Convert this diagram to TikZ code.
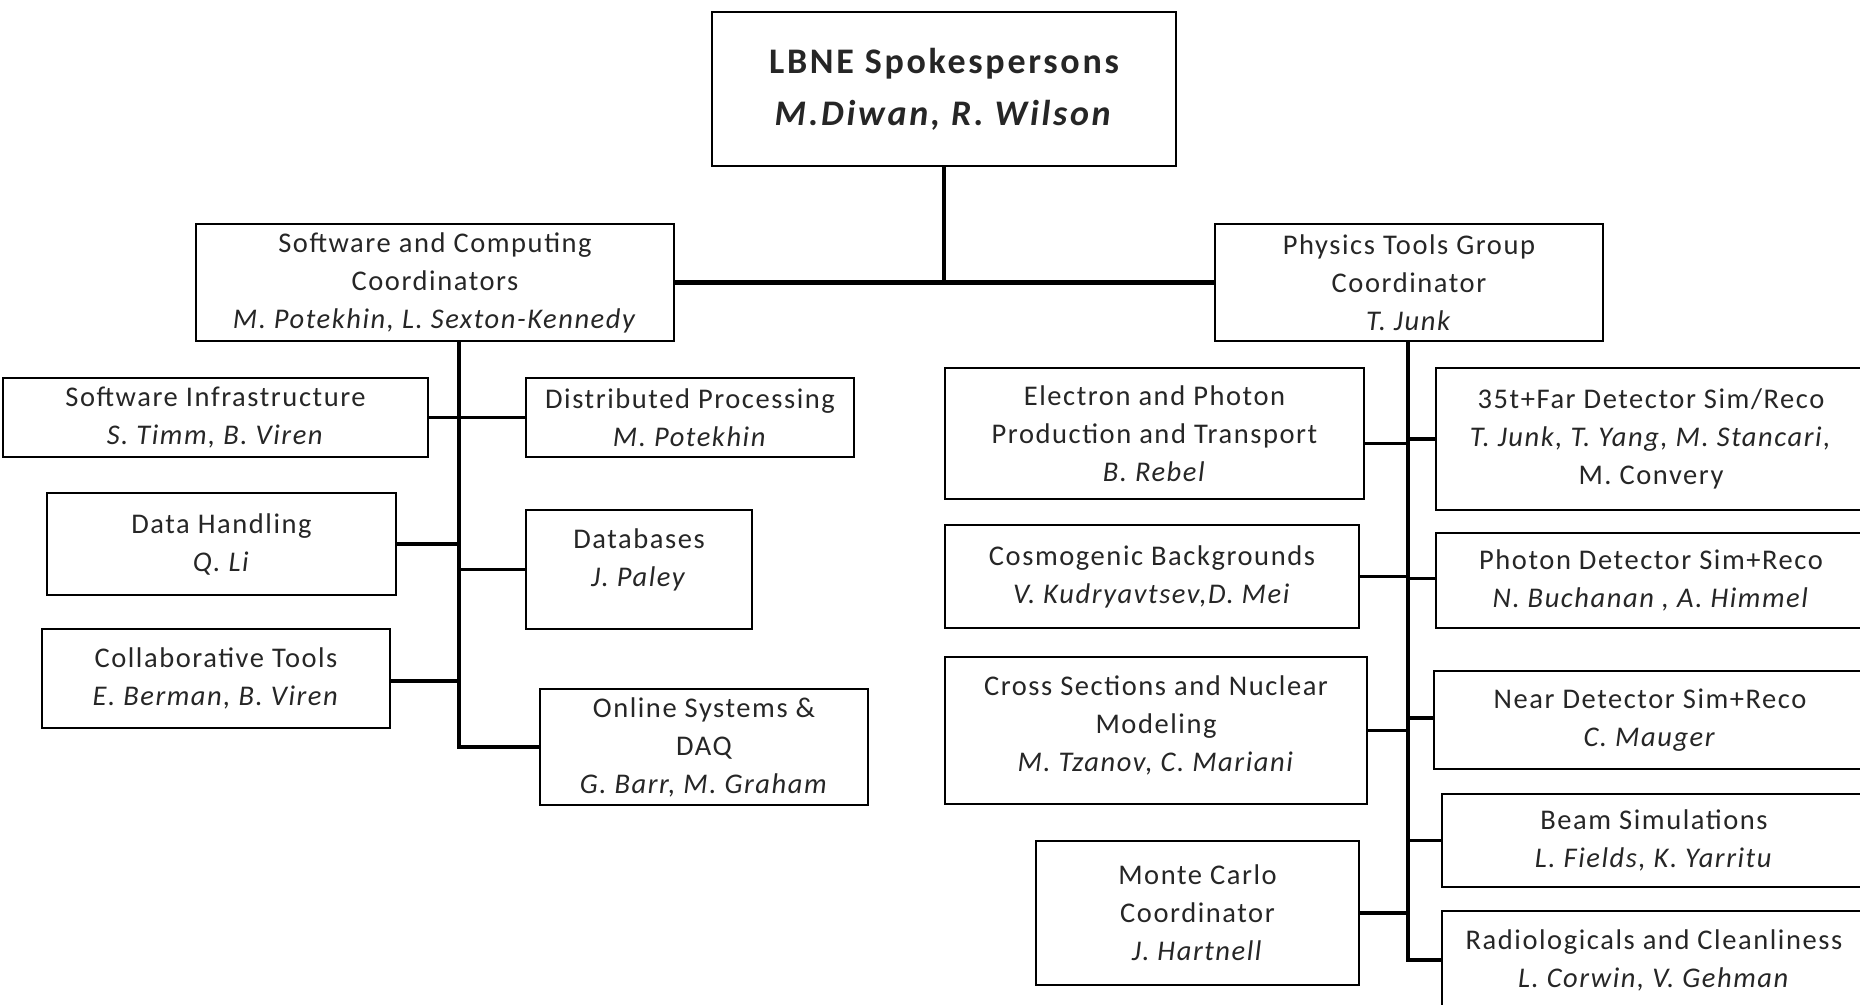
\documentclass[tikz,border=0pt]{standalone}
\usepackage{fontspec}
\setmainfont{Carlito}[LetterSpace=5.5]
\newfontfamily\headfont{Carlito}[LetterSpace=7.5]
\begin{document}
\begin{tikzpicture}[x=1pt,y=-1pt,
  box/.style={draw=black, line width=1.8pt, fill=white, inner sep=0pt, outer sep=0pt,
    align=center, font=\fontsize{28.5}{38}\selectfont, text=black!85},
  txt/.style={inner sep=0pt, align=center, font=\fontsize{28.5}{38}\selectfont, text=black!85},
  headbox/.style={box, font=\headfont\fontsize{36}{52}\selectfont\bfseries},
  conn/.style={draw=black, line width=3.4pt},
  trunk/.style={draw=black, line width=4.4pt}]
\fill[white] (0,0) rectangle (1860,1004);
\useasboundingbox (0,0) rectangle (1860,1004);
\clip (0,0) rectangle (1860,1004);

% nodes
\node[headbox, minimum width=464pt, minimum height=154pt] (top) at (944,89)
  {LBNE Spokespersons\\\textit{M.Diwan, R. Wilson}};
\node[box, minimum width=478pt, minimum height=117pt] (sw) at (435,282.5)
  {Software and Computing\\Coordinators\\\textit{M. Potekhin, L. Sexton-Kennedy}};
\node[box, minimum width=388pt, minimum height=117pt] (phys) at (1409,282.5)
  {Physics Tools Group\\Coordinator\\\textit{T. Junk}};

\node[box, minimum width=425pt, minimum height=79pt] (si) at (215.5,417.5)
  {Software Infrastructure\\\textit{S. Timm, B. Viren}};
\node[box, minimum width=328pt, minimum height=79pt] (dp) at (690,417.5)
  {Distributed Processing\\\textit{M. Potekhin}};
\node[box, minimum width=349pt, minimum height=102pt] (dh) at (221.5,544)
  {Data Handling\\\textit{Q. Li}};
\node[box, minimum width=226pt, minimum height=119pt] (db) at (639,569.5) {};
\node[txt] (dbt) at ([yshift=10pt]db.center) {Databases\\\textit{J. Paley}};
\node[box, minimum width=348pt, minimum height=99pt] (ct) at (216,678.5)
  {Collaborative Tools\\\textit{E. Berman, B. Viren}};
\node[box, minimum width=328pt, minimum height=116pt] (os) at (704,747)
  {Online Systems \&\\DAQ\\\textit{G. Barr, M. Graham}};

\node[box, minimum width=419pt, minimum height=131pt] (ep) at (1154.5,433.5)
  {Electron and Photon\\Production and Transport\\\textit{B. Rebel}};
\node[box, minimum width=414pt, minimum height=103pt] (cb) at (1152,576.5)
  {Cosmogenic Backgrounds\\\textit{V. Kudryavtsev,D. Mei}};
\node[box, minimum width=422pt, minimum height=147pt] (cs) at (1156,730.5) {};
\node[txt] (cst) at ([yshift=5pt]cs.center)
  {Cross Sections and Nuclear\\Modeling\\\textit{M. Tzanov, C. Mariani}};
\node[box, minimum width=323pt, minimum height=144pt] (mc) at (1197.5,913)
  {Monte Carlo\\Coordinator\\\textit{J. Hartnell}};

\node[box, minimum width=430pt, minimum height=142pt] (far) at (1651,439)
  {35t+Far Detector Sim/Reco\\\textit{T. Junk, T. Yang, M. Stancari,}\\M. Convery};
\node[box, minimum width=430pt, minimum height=95pt] (pd) at (1651,580.5)
  {Photon Detector Sim+Reco\\\textit{N. Buchanan , A. Himmel}};
\node[box, minimum width=432pt, minimum height=98pt] (nd) at (1650,720)
  {Near Detector Sim+Reco\\\textit{C. Mauger}};
\node[box, minimum width=424pt, minimum height=93pt] (bs) at (1654,840.5)
  {Beam Simulations\\\textit{L. Fields, K. Yarritu}};
\node[box, minimum width=424pt, minimum height=98pt] (rd) at (1654,960)
  {Radiologicals and Cleanliness\\\textit{L. Corwin, V. Gehman}};

% trunk coordinates
\coordinate (swtop) at (459,341);
\coordinate (phtop) at (1408,341);

% connectors
\draw[trunk] (top.south) -- (top.south |- sw.east);
\draw[trunk] (sw.east) -- (phys.west);

\draw[trunk] (swtop) |- (os.west);
\draw[conn] (si.east) -- (si.east -| swtop);
\draw[conn] (dp.west) -- (dp.west -| swtop);
\draw[conn] (dh.east) -- (dh.east -| swtop);
\draw[conn] (db.west) -- (db.west -| swtop);
\draw[conn] ([yshift=-2.5pt]ct.east) -- ([yshift=-2.5pt]ct.east -| swtop);

\draw[trunk] (phtop) |- (rd.west);
\draw[conn] ([yshift=-10pt]ep.east) -- ([yshift=-10pt]ep.east -| phtop);
\draw[conn] (cb.east) -- (cb.east -| phtop);
\draw[conn] (cs.east) -- (cs.east -| phtop);
\draw[conn] (mc.east) -- (mc.east -| phtop);
\draw[conn] (far.west) -- (far.west -| phtop);
\draw[conn] ([yshift=2pt]pd.west) -- ([yshift=2pt]pd.west -| phtop);
\draw[conn] ([yshift=2pt]nd.west) -- ([yshift=2pt]nd.west -| phtop);
\draw[conn] (bs.west) -- (bs.west -| phtop);
\end{tikzpicture}
\end{document}
